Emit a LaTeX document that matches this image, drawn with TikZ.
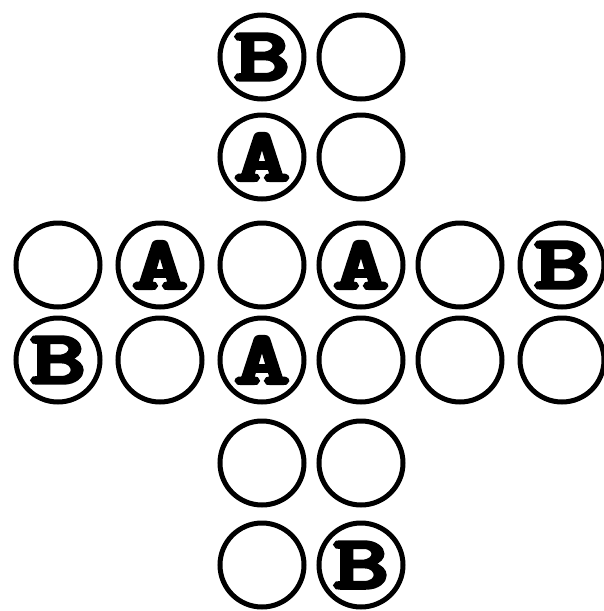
\documentclass[tikz,border=0pt]{standalone}
\usepackage{fontspec}
\newfontfamily\typ{lmmonolt10-bold.otf}[FakeBold=4]
\newcommand{\lt}[1]{\scalebox{1.4}[1]{#1}}
\begin{document}
\begin{tikzpicture}[x=1pt,y=-1pt,
  hole/.style={circle,draw=black,line width=5pt,minimum size=84pt,inner sep=0pt,
    font=\typ\fontsize{76}{76}\selectfont}]
\useasboundingbox (0,0) rectangle (604,611);
% rows y: 57,157,265,360,463,565 ; cols x: 58,160,262,361,460,562
\node[hole] (r1a) at (262,57) {\lt{B}};
\node[hole] (r1b) at (361,57) {};
\node[hole] (r2a) at (262,157) {\lt{A}};
\node[hole] (r2b) at (361,157) {};
\node[hole] (r3a) at (58,265) {};
\node[hole] (r3b) at (160,265) {\lt{A}};
\node[hole] (r3c) at (262,265) {};
\node[hole] (r3d) at (361,265) {\lt{A}};
\node[hole] (r3e) at (460,265) {};
\node[hole] (r3f) at (562,265) {\lt{B}};
\node[hole] (r4a) at (58,360) {\lt{B}};
\node[hole] (r4b) at (160,360) {};
\node[hole] (r4c) at (262,360) {\lt{A}};
\node[hole] (r4d) at (361,360) {};
\node[hole] (r4e) at (460,360) {};
\node[hole] (r4f) at (562,360) {};
\node[hole] (r5a) at (262,463) {};
\node[hole] (r5b) at (361,463) {};
\node[hole] (r6a) at (262,565) {};
\node[hole] (r6b) at (361,565) {\lt{B}};
\end{tikzpicture}
\end{document}
